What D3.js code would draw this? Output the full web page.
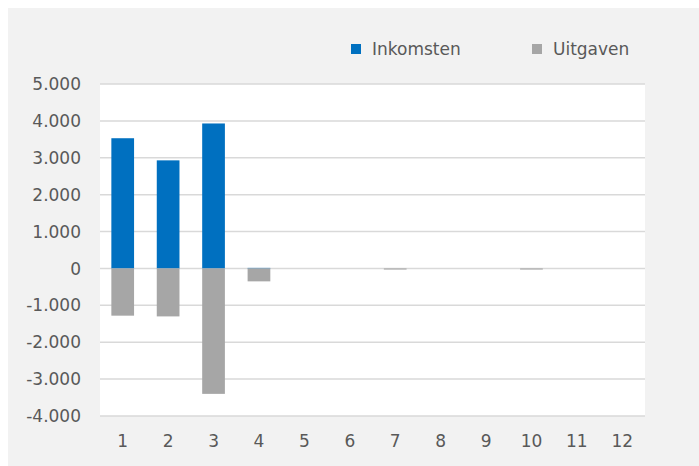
<!DOCTYPE html>
<html>
<head>
<meta charset="utf-8">
<script src="https://cdn.jsdelivr.net/npm/d3@7"></script>
<style>
  body { margin: 0; background: #ffffff; }
  text { font-family: "DejaVu Sans", Verdana, sans-serif; fill: #595959; }
</style>
</head>
<body>
<script>
var maanden = ["1", "2", "3", "4", "5", "6", "7", "8", "9", "10", "11", "12"];
var inkomsten = [3530, 2930, 3930, 15, 0, 0, 0, 0, 0, 0, 0, 0];
var uitgaven = [-1280, -1300, -3400, -350, 0, 0, -30, 0, 0, -30, 0, 0];
var yTicks = [-4000, -3000, -2000, -1000, 0, 1000, 2000, 3000, 4000, 5000];
var reeksen = ["Inkomsten", "Uitgaven"];
var kleuren = ["#0070c0", "#a6a6a6"];

var width = 699, height = 466;
var plot = {left: 100, right: 645, top: 84, bottom: 416};

var svg = d3.select("body").append("svg")
    .attr("width", width)
    .attr("height", height);

// grijs paneel
svg.append("rect")
    .attr("x", 8).attr("y", 8)
    .attr("width", width - 8).attr("height", height - 8)
    .attr("fill", "#f2f2f2");

svg.append("rect")
    .attr("x", plot.left).attr("y", plot.top)
    .attr("width", plot.right - plot.left).attr("height", plot.bottom - plot.top)
    .attr("fill", "#ffffff");

var x = d3.scaleBand()
    .domain(maanden)
    .range([plot.left, plot.right])
    .paddingInner(0.5)
    .paddingOuter(0.25);

var y = d3.scaleLinear()
    .domain([-4000, 5000])
    .range([plot.bottom, plot.top]);

var fmt = function(d) {
    return d3.format(",")(d).replace(/,/g, ".").replace("−", "-");
};

// rasterlijnen
svg.append("g").selectAll("line")
    .data(yTicks)
    .enter().append("line")
    .attr("x1", plot.left).attr("x2", plot.right)
    .attr("y1", function(d){ return y(d); })
    .attr("y2", function(d){ return y(d); })
    .attr("stroke", "#d9d9d9")
    .attr("stroke-width", 1.5);

svg.append("g").selectAll("text")
    .data(yTicks)
    .enter().append("text")
    .attr("x", 81)
    .attr("y", function(d){ return y(d); })
    .attr("dy", "0.36em")
    .attr("text-anchor", "end")
    .style("font-size", "17px")
    .text(fmt);

// balken
svg.append("g").selectAll("rect")
    .data(inkomsten)
    .enter().append("rect")
    .attr("x", function(d, i){ return x(maanden[i]); })
    .attr("width", x.bandwidth())
    .attr("y", function(d){ return y(Math.max(0, d)); })
    .attr("height", function(d){ return Math.abs(y(d) - y(0)); })
    .attr("fill", kleuren[0]);

svg.append("g").selectAll("rect")
    .data(uitgaven)
    .enter().append("rect")
    .attr("x", function(d, i){ return x(maanden[i]); })
    .attr("width", x.bandwidth())
    .attr("y", function(d){ return y(Math.max(0, d)); })
    .attr("height", function(d){ return Math.abs(y(d) - y(0)); })
    .attr("fill", kleuren[1]);

// x-as labels
svg.append("g").selectAll("text")
    .data(maanden)
    .enter().append("text")
    .attr("x", function(d){ return x(d) + x.bandwidth() / 2; })
    .attr("y", 447)
    .attr("text-anchor", "middle")
    .style("font-size", "17px")
    .text(function(d){ return d; });

// legenda
var legendX = [351, 532];
var legenda = svg.append("g").selectAll("g")
    .data(reeksen)
    .enter().append("g")
    .attr("transform", function(d, i){ return "translate(" + legendX[i] + ",44)"; });

legenda.append("rect")
    .attr("width", 10).attr("height", 10)
    .attr("fill", function(d, i){ return kleuren[i]; });

legenda.append("text")
    .attr("x", 21)
    .attr("y", 5)
    .attr("dy", "0.36em")
    .style("font-size", "17px")
    .text(function(d){ return d; });
</script>
</body>
</html>
